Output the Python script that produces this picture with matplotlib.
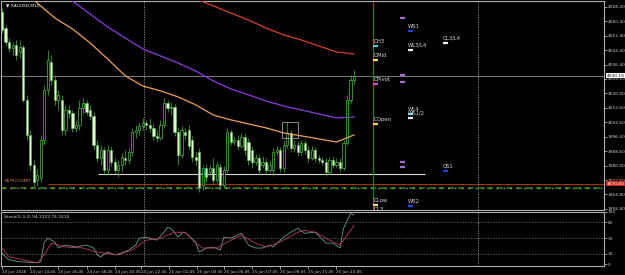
import numpy as np
import matplotlib.pyplot as plt
from matplotlib.patches import Rectangle
from matplotlib.transforms import blended_transform_factory

# XAUUSD M15 candles (price values)
opens = [4065.4, 4056.6, 4048.9, 4045.6, 4047.2, 4043.4, 4046.1, 4016.9, 3997.6, 3981.1,
         3972.8, 3973.9, 3994.9, 4022.4, 4037.9, 4027.9, 4016.9, 4016.9, 4000.4, 4011.4,
         4009.7, 4001.5, 4003.1, 4012.5, 4015.3, 4011.4, 4008.1, 3992.1, 3984.9, 3989.3,
         3978.3, 3989.3, 3982.7, 3978.3, 3981.1, 3984.9, 3983.8, 3988.2, 3999.3, 4000.4,
         4002.6, 4004.2, 4003.1, 4001.5, 3997.1, 3996.0, 4003.1, 4015.3, 4012.5, 4013.1,
         3999.3, 3986.6, 3999.3, 4000.4, 3994.9, 3985.5, 3988.2, 3970.0, 3979.4, 3977.2,
         3979.4, 3972.8, 3980.0, 3970.0, 3978.3, 3999.3, 3993.7, 3994.9, 3991.5, 3996.5,
         3993.7, 3989.3, 3982.7, 3984.9, 3981.1, 3982.7, 3978.3, 3978.3, 3988.2, 3989.3,
         3979.4, 3992.1, 3998.7, 3990.4, 3992.1, 3988.2, 3993.2, 3989.3, 3984.9, 3989.3,
         3984.9, 3983.8, 3982.7, 3977.2, 3983.8, 3981.1, 3982.7, 3979.4, 3993.2, 4016.9,
         4027.9]
highs = [4067.6, 4058.3, 4051.1, 4048.9, 4050.0, 4050.0, 4047.2, 4019.7, 4000.4, 3983.8,
         3979.4, 3997.6, 4025.2, 4044.5, 4041.7, 4030.7, 4022.4, 4019.7, 4014.2, 4014.2,
         4011.4, 4005.9, 4016.9, 4018.0, 4016.9, 4014.2, 4010.3, 3994.9, 3992.1, 3991.0,
         3992.1, 3991.5, 3984.9, 3983.8, 3987.7, 3989.3, 3990.4, 4001.5, 4003.1, 4004.8,
         4007.0, 4005.9, 4007.0, 4003.7, 4000.4, 4005.9, 4018.0, 4016.9, 4015.8, 4014.7,
         4001.5, 4002.6, 4001.5, 4003.1, 3997.1, 3988.2, 3990.4, 3981.1, 3981.6, 3981.1,
         3984.9, 3982.7, 3982.2, 3980.5, 4001.5, 4000.4, 3997.1, 3997.6, 3998.7, 3998.2,
         3996.0, 3991.5, 3987.1, 3986.6, 3986.0, 3984.9, 3983.8, 3990.4, 3991.5, 3991.0,
         3994.9, 4004.8, 4000.4, 3994.9, 3994.3, 3994.9, 3994.9, 3991.5, 3991.5, 3991.0,
         3986.6, 3985.5, 3984.9, 3985.5, 3986.0, 3984.9, 3984.9, 3994.9, 4019.7, 4030.7,
         4033.5]
lows = [4053.9, 4046.7, 4043.4, 4041.7, 4039.0, 4040.1, 4015.8, 3994.9, 3978.3, 3968.4,
        3969.5, 3971.7, 3992.1, 4019.7, 4025.2, 4014.2, 4011.4, 3997.6, 3997.6, 4007.0,
        3999.3, 3999.3, 4000.4, 4009.7, 4008.6, 4005.9, 3989.3, 3982.7, 3981.1, 3975.5,
        3976.1, 3980.5, 3976.1, 3974.4, 3977.2, 3981.1, 3981.6, 3986.0, 3996.0, 3997.6,
        4000.4, 4000.4, 3999.3, 3994.9, 3993.7, 3994.9, 4001.5, 4010.3, 4008.6, 3997.1,
        3981.1, 3984.9, 3994.9, 3989.3, 3982.7, 3981.1, 3966.2, 3967.3, 3971.7, 3975.0,
        3970.6, 3971.1, 3967.3, 3968.4, 3977.2, 3992.1, 3992.1, 3989.3, 3990.4, 3986.6,
        3981.1, 3979.4, 3981.1, 3975.5, 3979.4, 3976.1, 3977.2, 3975.0, 3986.6, 3977.2,
        3977.2, 3990.4, 3988.2, 3988.2, 3986.0, 3986.6, 3987.1, 3982.7, 3983.8, 3982.7,
        3982.2, 3981.1, 3975.0, 3976.1, 3979.4, 3979.9, 3977.2, 3978.3, 3992.1, 4015.3,
        4025.7]
closes = [4055.5, 4048.9, 4045.6, 4047.2, 4041.7, 4046.1, 4016.9, 3997.6, 3981.1, 3971.7,
          3975.5, 3994.9, 4022.4, 4039.0, 4027.9, 4016.9, 4019.7, 4000.4, 4011.4, 4009.7,
          4001.5, 4003.1, 4012.5, 4015.3, 4010.3, 4008.1, 3992.1, 3984.9, 3989.3, 3978.3,
          3989.3, 3982.7, 3978.3, 3981.1, 3985.5, 3983.8, 3988.2, 3999.3, 4000.4, 4002.6,
          4004.2, 4003.1, 4001.5, 3997.1, 3996.0, 4003.1, 4015.3, 4012.5, 4013.1, 3999.3,
          3986.6, 4000.4, 3997.6, 3991.5, 3985.5, 3983.8, 3968.9, 3979.4, 3974.4, 3979.4,
          3972.8, 3981.1, 3970.0, 3978.3, 3999.3, 3993.7, 3994.9, 3991.5, 3996.5, 3989.3,
          3983.8, 3982.7, 3984.9, 3978.3, 3982.7, 3978.3, 3981.1, 3988.2, 3989.3, 3979.4,
          3992.1, 3998.7, 3990.4, 3992.1, 3988.2, 3993.2, 3989.3, 3984.9, 3989.3, 3984.9,
          3983.8, 3982.7, 3977.2, 3983.8, 3981.1, 3982.7, 3979.4, 3993.2, 4016.9, 4027.9,
          4030.19]

# moving averages sampled every 5 bars
ma_idx = list(range(0, 101, 5))
ma_orange = [4091.4, 4080.9, 4070.4, 4062.1, 4056.1, 4048.4, 4039.5, 4030.2, 4024.6, 4021.9, 4018.6,
             4014.2, 4008.6, 4005.9, 4003.7, 4001.5, 3998.7, 3997.1, 3995.4, 3993.7, 3997.6]
ma_purple = [4098.5, 4091.9, 4084.7, 4078.1, 4071.5, 4064.3, 4057.2, 4051.1, 4045.0, 4041.2, 4037.3,
             4032.9, 4027.4, 4023.0, 4019.7, 4016.3, 4013.6, 4011.4, 4009.2, 4007.0, 4007.5]
ma_red = [4116.2, 4112.3, 4108.5, 4104.0, 4100.2, 4096.3, 4092.5, 4088.1, 4084.2, 4080.3, 4076.5,
          4072.6, 4068.8, 4064.9, 4061.0, 4056.6, 4052.8, 4050.0, 4046.7, 4043.4, 4042.3]

# stochastic
stoch_main_idx = [0, 1, 2, 5, 10, 11, 12, 13, 15, 16, 18, 21, 24, 26, 27, 28, 30, 32, 34, 36,
                  38, 39, 41, 44, 46, 47, 48, 50, 51, 52, 55, 56, 58, 60, 62, 63, 65, 68, 70, 72,
                  74, 76, 77, 80, 82, 84, 86, 89, 92, 94, 96, 97, 99, 100]
stoch_main = [22.0, 14.4, 8.8, 5.1, 3.2, 5.1, 42.6, 50.1, 42.6, 31.3,
              37.0, 33.2, 37.0, 31.3, 18.2, 14.4, 23.8, 18.2, 22.0, 27.6,
              37.0, 50.1, 52.0, 46.3, 61.4, 70.7, 68.9, 52.0, 59.5, 61.4,
              42.6, 23.8, 31.3, 33.2, 27.6, 52.0, 50.1, 59.5, 37.0, 31.3,
              31.3, 37.0, 33.2, 52.0, 61.4, 68.9, 59.5, 61.4, 40.7, 40.7,
              31.3, 68.9, 97.0, 94.3]
stoch_sig_idx = [0, 2, 6, 10, 12, 14, 18, 23, 27, 33, 37, 41, 45, 49, 52, 55, 57, 61, 65, 68,
                 72, 75, 79, 84, 86, 89, 93, 96, 100]
stoch_sig = [31.3, 14.4, 8.8, 3.2, 18.2, 40.7, 33.2, 31.3, 23.8, 18.2, 27.6, 46.3, 50.1, 61.4,
             61.4, 40.7, 31.3, 31.3, 46.3, 55.7, 40.7, 33.2, 42.6, 61.4, 65.1, 61.4, 46.3, 37.0, 74.3]

# pivot levels drawn on the right
piv_names = ["DH3", "DMid", "DPivot", "DOpen", "DLow", "WS1", "WL3/L4", "WL4", "WS1/2", "WS2", "QL3/L4", "QS1"]
piv_prices = [4046.7, 4039.0, 4025.7, 4003.7, 3959.0, 4055.0, 4044.5, 4009.2, 4007.0, 3958.3, 4048.3, 3977.8]
piv_colors = ["#40d8d0", "#e8e070", "#c050c0", "#e8d850", "#d8e890", "#2040e0", "#f0f0f0",
              "#60e0e0", "#f0f0f0", "#2040e0", "#f0f0f0", "#2040e0"]
piv_group = ["D", "D", "D", "D", "D", "W", "W", "W", "W", "W", "Q", "Q"]
stub_prices = [4062.1, 4030.7, 4026.8, 3982.7, 3980.0]

price_ticks = [4068.20, 4060.40, 4052.40, 4044.40, 4036.40, 4028.60, 4020.60, 4012.60,
               4004.60, 3996.60, 3988.60, 3980.60, 3972.60, 3964.80, 3956.80]
date_idx = [0, 8, 16, 24, 32, 39.5, 47.5, 55.5, 63, 71, 79, 87, 95]
date_labels = ["24 Jun 2026", "24 Jun 14:45", "24 Jun 16:45", "24 Jun 18:45", "24 Jun 20:45",
               "24 Jun 22:45", "25 Jun 01:45", "25 Jun 03:45", "25 Jun 05:45", "25 Jun 07:45",
               "25 Jun 09:45", "25 Jun 11:45", "25 Jun 13:45"]

support_level = 3976.1
red_level = 3970.6
green_level = 3968.4

fig = plt.figure(figsize=(6.25, 2.75), dpi=100, facecolor="black")
ax = fig.add_axes([0.0016, 0.2364, 0.9648, 0.760], facecolor="black")
ax2 = fig.add_axes([0.0016, 0.0327, 0.9648, 0.1964], facecolor="black")

xmin, xmax = -0.3, 171.0
col = {"D": 105.4, "W": 115.3, "Q": 125.3}
small = 3.2

# candles
o = np.array(opens); h = np.array(highs); l = np.array(lows); c = np.array(closes)
idx = np.arange(len(c))
up = c >= o
ax.vlines(idx, l, h, color="#3c9a2c", lw=0.6, zorder=2)
ax.bar(idx[up], c[up] - o[up], bottom=o[up], width=0.62, color="black",
       edgecolor="#4cc040", lw=0.5, zorder=3)
ax.bar(idx[~up], o[~up] - c[~up], bottom=c[~up], width=0.62, color="#dcf8cc",
       edgecolor="#6cc060", lw=0.4, zorder=3)

ax.plot(ma_idx, ma_orange, color="#f0a050", lw=0.9, zorder=4)
ax.plot(ma_idx, ma_purple, color="#8a3ce0", lw=0.9, zorder=4)
ax.plot(ma_idx, ma_red, color="#d84028", lw=0.9, zorder=4)

# lines
ax.axhline(closes[-1], color="#8c8c8c", lw=0.6, zorder=1)
ax.hlines(support_level, 27.3, 120.2, color="#d8d8d8", lw=0.8, zorder=1)
ax.hlines(red_level, 13, xmax, color="#a03418", lw=0.8, zorder=1)
ax.axhline(green_level, color="#2e6a1c", lw=1.4, ls=(0, (3, 2)), zorder=1)
ax.axhline(green_level, color="#90c050", lw=1.0, ls=(3.5, (1, 4)), zorder=1)
ax.axvline(105.4, color="#b03a20", lw=0.8, zorder=1)
for a in (ax, ax2):
    a.axvline(40.3, color="#909090", lw=0.6, ls=(0, (1.5, 1.5)), zorder=1)
    a.axvline(135.2, color="#909090", lw=0.6, ls=(0, (1.5, 1.5)), zorder=1)
ax.add_patch(Rectangle((79.5, 3995.8), 4.6, 9.0, fill=False, ec="#a0a0a0", lw=0.6, zorder=5))

# pivot markers and labels
for name, p, clr, g in zip(piv_names, piv_prices, piv_colors, piv_group):
    x0 = col[g]
    ax.hlines(p, x0, x0 + 1.4, color=clr, lw=1.6, zorder=6)
    ax.text(x0, p + 1.3, name, fontsize=3.8, color="#d8d8d8", va="bottom", ha="left", zorder=7)
ax.text(col["D"], 3957.9, "DL3", fontsize=3.8, color="#d8d8d8", va="top", ha="left")
for p in stub_prices:
    ax.hlines(p, 113.1, 114.6, color="#a070d0", lw=1.6, zorder=6)

ax.text(0.008, 0.988, "\u25bc XAUUSD,M15", transform=ax.transAxes, fontsize=small,
        color="white", va="top")
ax.text(0.6, red_level + 0.3, "BNPROCHART", fontsize=2.8, color="#c07a6a", va="bottom")

ax.set_xlim(xmin, xmax)
ax.set_ylim(3956.2, 4071.5)
ax.yaxis.tick_right()
ax.set_yticks(price_ticks)
ax.set_yticklabels([f"{v:.2f}" for v in price_ticks])
ax.tick_params(axis="y", colors="#c8c8c8", labelsize=small, length=2, pad=0.8, width=0.5)
ax.tick_params(axis="x", bottom=False, labelbottom=False)

trans = blended_transform_factory(ax.transAxes, ax.transData)
ax.text(1.004, closes[-1], f"{closes[-1]:.2f}", transform=trans, fontsize=small, color="black",
        va="center", ha="left", clip_on=False,
        bbox=dict(boxstyle="square,pad=0.12", fc="white", ec="none"))
ax.text(1.004, red_level, f"{red_level:.2f}", transform=trans, fontsize=small, color="white",
        va="center", ha="left", clip_on=False,
        bbox=dict(boxstyle="square,pad=0.12", fc="#d02818", ec="none"))

# stochastic panel
for lv in (80, 50, 20):
    ax2.axhline(lv, color="#7a7a7a", lw=0.5, ls=(0, (2, 2)))
ax2.plot(stoch_main_idx, stoch_main, color="#6e9e8a", lw=0.6)
ax2.plot(stoch_sig_idx, stoch_sig, color="#b83a5a", lw=0.6)
ax2.text(0.005, 0.94, "Stoch(5,3,3) 94.3122 74.3215", transform=ax2.transAxes,
         fontsize=small, color="#d0d0d0", va="top")
ax2.set_xlim(xmin, xmax)
ax2.set_ylim(-3, 100)
ax2.yaxis.tick_right()
ax2.set_yticks([0, 20, 50, 80, 100])
ax2.set_yticklabels(["0", "20", "50", "80", "100"])
ax2.tick_params(axis="y", colors="#c8c8c8", labelsize=small, length=2, pad=0.8, width=0.5)
ax2.set_xticks(date_idx)
ax2.set_xticklabels(date_labels, ha="left")
ax2.tick_params(axis="x", colors="#c8c8c8", labelsize=3.0, length=2, pad=0.8, width=0.5)

for a in (ax, ax2):
    for s in a.spines.values():
        s.set_color("#b0b0b0")
        s.set_linewidth(0.8)

fig.savefig("out.png", dpi=100, facecolor="black")
